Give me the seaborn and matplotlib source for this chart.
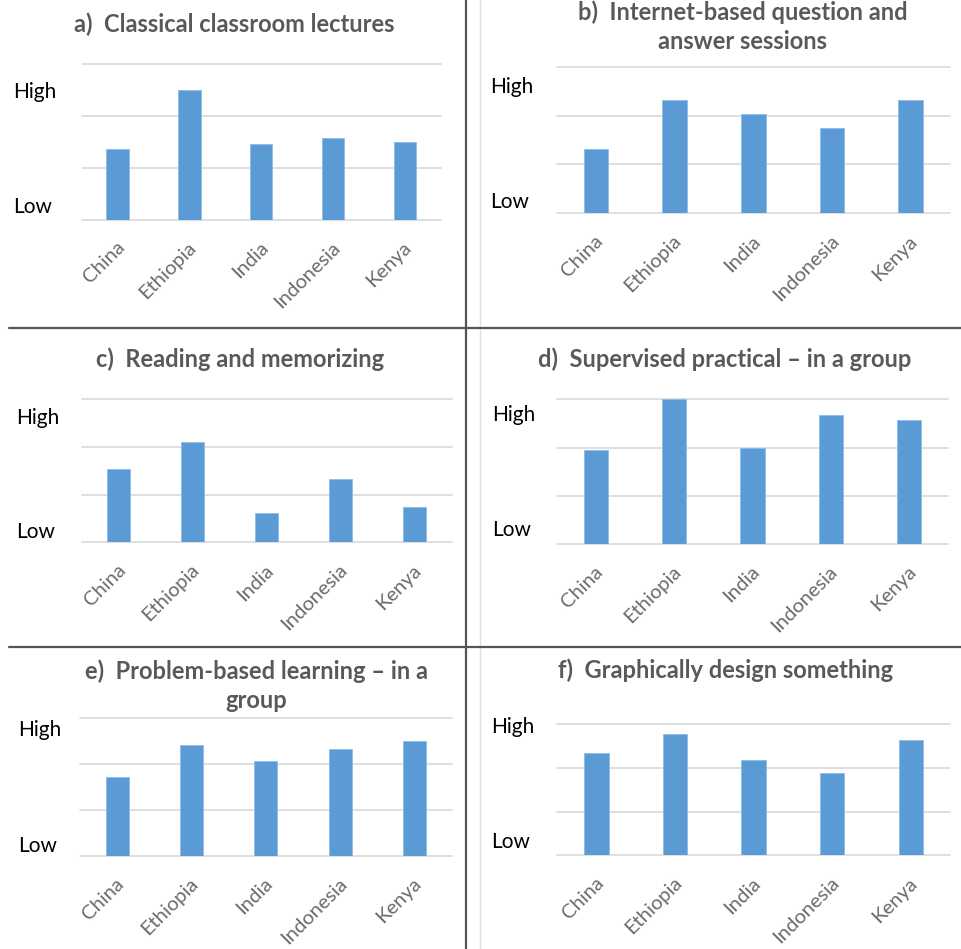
import matplotlib
matplotlib.use("Agg")
import matplotlib.pyplot as plt
import seaborn as sns
import pandas as pd

sns.set_theme(style="white")
plt.rcParams["font.family"] = ["Lato", "DejaVu Sans"]

countries = ["China", "Ethiopia", "India", "Indonesia", "Kenya"]

lectures = [1.37, 2.50, 1.46, 1.57, 1.50]
internet_qa = [1.32, 2.32, 2.04, 1.74, 2.32]
reading = [1.54, 2.10, 0.61, 1.33, 0.75]
supervised_group = [1.95, 3.00, 2.00, 2.68, 2.57]
problem_group = [1.72, 2.40, 2.05, 2.33, 2.50]
graphic_design = [2.34, 2.77, 2.19, 1.88, 2.65]

titles = [
    "a)  Classical classroom lectures",
    "b)  Internet-based question and\nanswer sessions",
    "c)  Reading and memorizing",
    "d)  Supervised practical \u2013 in a group",
    "e)  Problem-based learning \u2013 in a\ngroup",
    "f)  Graphically design something",
]
series = [lectures, internet_qa, reading, supervised_group, problem_group, graphic_design]

W, H = 961, 949
fig = plt.figure(figsize=(W / 100, H / 100), dpi=100)

# panel layout in pixels: axes box (x0, x1, ytop, ybottom), title centre, High/Low label anchors
panels = [
    dict(box=(81.7, 440.7, 64.0, 219.7), title=(234, 24), lab_x=12.7, high=91.7, low=206.7),
    dict(box=(556.7, 950.0, 66.7, 213.3), title=(743, 27), lab_x=490.0, high=87.3, low=202.3),
    dict(box=(81.7, 451.7, 399.3, 542.3), title=(240, 359.3), lab_x=16.0, high=417.7, low=532.3),
    dict(box=(556.7, 948.3, 399.3, 544.0), title=(725, 359.3), lab_x=491.7, high=415.0, low=530.0),
    dict(box=(80.0, 451.7, 717.7, 856.0), title=(256.5, 686), lab_x=18.3, high=730.0, low=845.7),
    dict(box=(557.3, 950.0, 724.3, 855.3), title=(726, 670.7), lab_x=490.7, high=727.3, low=842.3),
]

bar_color = "#5b9bd5"
text_gray = "#595959"
tick_gray = "#6b6b6b"
grid_gray = "#d9d9d9"

for spec, title, values in zip(panels, titles, series):
    x0, x1, yt, yb = spec["box"]
    ax = fig.add_axes([x0 / W, 1 - yb / H, (x1 - x0) / W, (yb - yt) / H])
    df = pd.DataFrame({"country": countries, "score": values})
    sns.barplot(data=df, x="country", y="score", color=bar_color, saturation=1,
                width=0.31, edgecolor="#8fbbe6", linewidth=0.6, ax=ax, zorder=3)
    ax.set_xlim(-0.5, len(countries) - 0.5)
    ax.set_ylim(0, 3)
    ax.set_yticks([0, 1, 2, 3])
    ax.set_yticklabels([])
    ax.yaxis.grid(True, color=grid_gray, linewidth=1.2)
    for gl in ax.get_ygridlines():
        gl.set_clip_on(False)
    ax.set_axisbelow(True)
    ax.tick_params(axis="both", length=0)
    ax.set_xticks(range(len(countries)))
    ax.set_xticklabels([])
    for i, name in enumerate(countries):
        ax.annotate(name, xy=(i, 0), xycoords=("data", "axes fraction"),
                    xytext=(4, -25), textcoords="offset pixels",
                    rotation=45, rotation_mode="anchor", ha="right", va="center",
                    fontsize=14.5, color=tick_gray)
    ax.set_xlabel("")
    ax.set_ylabel("")
    for s in ax.spines.values():
        s.set_visible(False)
    ax.patch.set_alpha(0)

    tx, ty = spec["title"]
    fig.text(tx / W, 1 - ty / H, title, ha="center", va="center", fontsize=17,
             fontweight="bold", color=text_gray, linespacing=1.3)
    fig.text(spec["lab_x"] / W, 1 - spec["high"] / H, "High", ha="left", va="center",
             fontsize=15, color="black")
    fig.text(spec["lab_x"] / W, 1 - spec["low"] / H, "Low", ha="left", va="center",
             fontsize=15, color="black")

# panel dividers
fig.add_artist(plt.Line2D([466 / W, 466 / W], [0, 1], color="#555555", linewidth=1.6))
fig.add_artist(plt.Line2D([480 / W, 480 / W], [0, 1], color="#e0e0e0", linewidth=1.0))
for yline in (328.3, 647.0):
    fig.add_artist(plt.Line2D([9 / W, 1], [1 - yline / H, 1 - yline / H],
                              color="#555555", linewidth=1.6))

fig.savefig("out.png", dpi=100)
